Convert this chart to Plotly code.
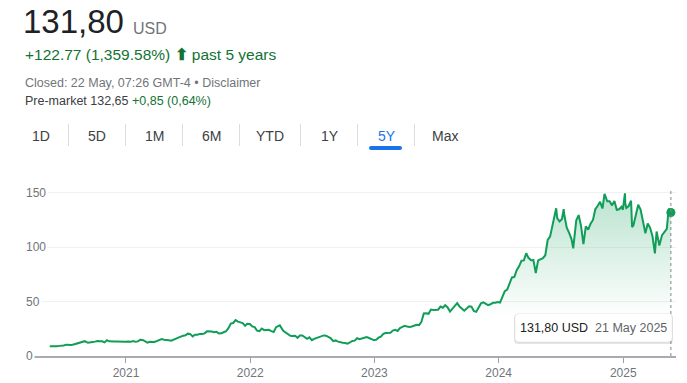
import plotly.graph_objects as go

# ---------------- data ----------------
dates = [
    "2020-05-22", "2020-05-29", "2020-06-05", "2020-06-12", "2020-06-19", "2020-06-26", "2020-07-02",
    "2020-07-10", "2020-07-17", "2020-07-24", "2020-07-31", "2020-08-07", "2020-08-14", "2020-08-21",
    "2020-08-28", "2020-09-02", "2020-09-11", "2020-09-18", "2020-09-25", "2020-10-02", "2020-10-09",
    "2020-10-16", "2020-10-23", "2020-10-30", "2020-11-06", "2020-11-13", "2020-11-20", "2020-11-27",
    "2020-12-04", "2020-12-11", "2020-12-18", "2020-12-31",
    "2021-01-08", "2021-01-15", "2021-01-22", "2021-01-29", "2021-02-05", "2021-02-12", "2021-02-19",
    "2021-02-26", "2021-03-05", "2021-03-12", "2021-03-19", "2021-03-26", "2021-04-01", "2021-04-09",
    "2021-04-16", "2021-04-23", "2021-04-30", "2021-05-07", "2021-05-14", "2021-05-21", "2021-05-28",
    "2021-06-04", "2021-06-11", "2021-06-18", "2021-06-25", "2021-07-02", "2021-07-09", "2021-07-16",
    "2021-07-23", "2021-07-30", "2021-08-06", "2021-08-13", "2021-08-20", "2021-08-27", "2021-09-03",
    "2021-09-10", "2021-09-17", "2021-09-24", "2021-10-01", "2021-10-08", "2021-10-15", "2021-10-22",
    "2021-10-29", "2021-11-05", "2021-11-12", "2021-11-19", "2021-11-26", "2021-12-03", "2021-12-10",
    "2021-12-17", "2021-12-23", "2021-12-31",
    "2022-01-07", "2022-01-14", "2022-01-21", "2022-01-28", "2022-02-04", "2022-02-11", "2022-02-18",
    "2022-02-25", "2022-03-04", "2022-03-11", "2022-03-18", "2022-03-25", "2022-03-29", "2022-04-08",
    "2022-04-14", "2022-04-22", "2022-04-29", "2022-05-06", "2022-05-13", "2022-05-20", "2022-05-27",
    "2022-06-03", "2022-06-10", "2022-06-17", "2022-06-24", "2022-07-01", "2022-07-08", "2022-07-15",
    "2022-07-22", "2022-07-29", "2022-08-05", "2022-08-12", "2022-08-19", "2022-08-26", "2022-09-02",
    "2022-09-09", "2022-09-16", "2022-09-23", "2022-09-30", "2022-10-07", "2022-10-14", "2022-10-21",
    "2022-10-28", "2022-11-04", "2022-11-11", "2022-11-18", "2022-11-25", "2022-12-02", "2022-12-09",
    "2022-12-16", "2022-12-23", "2022-12-30",
    "2023-01-06", "2023-01-13", "2023-01-20", "2023-01-27", "2023-02-03", "2023-02-10", "2023-02-17",
    "2023-02-24", "2023-03-03", "2023-03-10", "2023-03-17", "2023-03-24", "2023-03-31", "2023-04-07",
    "2023-04-14", "2023-04-21", "2023-04-28", "2023-05-05", "2023-05-12", "2023-05-19", "2023-05-26",
    "2023-06-02", "2023-06-09", "2023-06-16", "2023-06-23", "2023-06-30", "2023-07-07", "2023-07-14",
    "2023-07-21", "2023-07-28", "2023-08-04", "2023-08-11", "2023-08-18", "2023-08-25", "2023-09-01",
    "2023-09-08", "2023-09-15", "2023-09-22", "2023-09-29", "2023-10-06", "2023-10-13", "2023-10-20",
    "2023-10-27", "2023-11-03", "2023-11-10", "2023-11-17", "2023-11-24", "2023-12-01", "2023-12-08",
    "2023-12-15", "2023-12-22", "2023-12-29",
    "2024-01-05", "2024-01-12", "2024-01-19", "2024-01-26", "2024-02-02", "2024-02-09", "2024-02-16",
    "2024-02-23", "2024-03-01", "2024-03-08", "2024-03-15", "2024-03-22", "2024-03-28", "2024-04-05",
    "2024-04-12", "2024-04-19", "2024-04-26", "2024-05-03", "2024-05-10", "2024-05-17", "2024-05-24",
    "2024-05-31", "2024-06-07", "2024-06-14", "2024-06-18", "2024-06-21", "2024-06-28", "2024-07-05",
    "2024-07-10", "2024-07-12", "2024-07-19", "2024-07-26", "2024-08-02", "2024-08-07", "2024-08-09",
    "2024-08-16", "2024-08-23", "2024-08-30", "2024-09-06", "2024-09-13", "2024-09-20", "2024-09-27",
    "2024-10-04", "2024-10-11", "2024-10-18", "2024-10-25", "2024-11-01", "2024-11-07", "2024-11-15",
    "2024-11-22", "2024-11-29", "2024-12-06", "2024-12-13", "2024-12-20", "2024-12-27", "2024-12-31",
    "2025-01-06", "2025-01-07", "2025-01-10", "2025-01-17", "2025-01-24", "2025-01-27", "2025-01-31",
    "2025-02-07", "2025-02-14", "2025-02-21", "2025-02-28", "2025-03-07", "2025-03-14", "2025-03-21",
    "2025-03-28", "2025-04-04", "2025-04-09", "2025-04-11", "2025-04-17", "2025-04-25", "2025-05-02",
    "2025-05-09", "2025-05-13", "2025-05-16", "2025-05-21",
]
prices = [
    9.0, 8.9, 8.9, 9.0, 9.3, 9.2, 9.6,
    10.4, 10.2, 10.0, 10.6, 11.3, 11.5, 12.7,
    13.1, 13.6, 12.1, 12.2, 12.9, 13.2, 13.8,
    13.6, 13.5, 12.5, 14.5, 13.5, 13.2, 13.4,
    13.4, 13.2, 13.3, 13.0,
    13.3, 13.0, 13.7, 13.0, 13.4, 15.0, 14.8,
    13.7, 12.3, 13.0, 12.9, 12.9, 13.7, 14.5,
    15.6, 15.0, 15.0, 14.5, 14.1, 15.1, 16.3,
    17.5, 17.8, 18.6, 19.1, 20.5, 20.1, 18.0,
    19.5, 19.5, 20.3, 20.2, 20.8, 22.6, 22.8,
    22.4, 21.9, 22.2, 20.7, 20.8, 21.8, 22.7,
    25.6, 29.7, 30.3, 32.9, 31.5, 30.6, 30.2,
    27.7, 29.6, 29.4,
    27.2, 26.5, 23.3, 22.8, 25.2, 23.7, 23.6,
    24.1, 22.9, 22.0, 26.5, 27.6, 28.1, 23.2,
    21.7, 20.1, 18.5, 18.4, 18.6, 16.7, 18.8,
    18.8, 17.0, 15.8, 17.1, 14.5, 15.8, 16.4,
    17.3, 18.1, 18.9, 18.7, 17.5, 16.3, 13.6,
    14.3, 13.2, 12.5, 12.1, 12.0, 11.3, 12.4,
    13.8, 14.1, 16.3, 15.4, 16.3, 16.7, 17.4,
    16.5, 15.3, 14.6,
    14.8, 16.8, 17.8, 20.3, 21.1, 21.2, 21.4,
    23.3, 24.0, 23.0, 25.7, 26.8, 27.8, 27.0,
    26.7, 27.1, 27.7, 28.7, 28.3, 31.3, 39.0,
    39.3, 38.8, 42.6, 42.2, 42.3, 42.5, 45.4,
    44.3, 46.7, 44.6, 40.8, 43.3, 46.0, 48.5,
    45.5, 43.9, 41.6, 43.5, 45.7, 45.4, 41.3,
    40.5, 45.0, 48.3, 49.2, 47.7, 46.7, 47.5,
    48.8, 48.9, 49.5,
    49.0, 54.7, 59.5, 61.0, 66.1, 72.1, 72.6,
    78.8, 82.3, 87.5, 87.8, 94.3, 90.4, 88.0,
    88.1, 76.2, 87.8, 88.8, 89.9, 92.5, 106.5,
    109.6, 120.9, 131.9, 135.6, 126.6, 123.5, 125.8,
    134.9, 129.2, 117.9, 113.1, 107.3, 98.9, 104.8,
    124.6, 129.4, 119.4, 102.8, 119.1, 116.0, 121.4,
    124.9, 134.8, 138.0, 141.5, 135.4, 148.9, 142.0,
    142.0, 138.3, 142.4, 134.3, 134.7, 137.0, 134.3,
    149.4, 140.1, 135.9, 137.7, 142.6, 118.4, 120.1,
    129.8, 138.9, 134.4, 124.9, 112.7, 121.7, 117.7,
    109.7, 94.3, 114.3, 110.9, 101.5, 111.0, 114.5,
    116.7, 129.9, 135.4, 131.8,
]
y_tick_values = [0, 50, 100, 150]
y_tick_labels = ["0", "50", "100", "150"]
x_tick_dates = ["2021-01-01", "2022-01-01", "2023-01-01", "2024-01-01", "2025-01-01"]
x_tick_labels = ["2021", "2022", "2023", "2024", "2025"]
tab_labels = ["1D", "5D", "1M", "6M", "YTD", "1Y", "5Y", "Max"]
selected_tab = "5Y"
price_text = "131,80"
currency = "USD"
change_text = "+122.77 (1,359.58%)"
period_text = "past 5 years"
closed_text = "Closed: 22 May, 07:26 GMT-4 • Disclaimer"
premarket_label = "Pre-market 132,65"
premarket_change = "+0,85 (0,64%)"
tooltip_price = "131,80 USD"
tooltip_date = "21 May 2025"

# ---------------- layout geometry ----------------
W, H = 687, 383
L, R, T, B = 30, 11, 180, 27
PW, PH = W - L - R, H - T - B
GREEN = "#0f9d58"
TXT_GREEN = "#137333"
GRAY = "#70757a"
DARK = "#202124"
BLUE = "#1a73e8"
FONT = "Arial, Liberation Sans, sans-serif"


def px(x):
    return (x - L) / PW


def py(y):
    return (H - B - y) / PH


def rrect(x0, y0, x1, y1, r):
    rx, ry = r / PW, r / PH
    a0, a1 = px(x0), px(x1)
    b0, b1 = py(y1), py(y0)  # b0 bottom, b1 top
    return (f"M{a0+rx},{b0} L{a1-rx},{b0} Q{a1},{b0} {a1},{b0+ry} L{a1},{b1-ry} "
            f"Q{a1},{b1} {a1-rx},{b1} L{a0+rx},{b1} Q{a0},{b1} {a0},{b1-ry} "
            f"L{a0},{b0+ry} Q{a0},{b0} {a0+rx},{b0} Z")


fig = go.Figure()
fig.add_trace(go.Scatter(
    x=dates, y=prices, mode="lines",
    line=dict(color=GREEN, width=2),
    fill="tozeroy",
    fillgradient=dict(type="vertical",
                      colorscale=[[0, "rgba(15,157,88,0)"], [1, "rgba(15,157,88,0.30)"]],
                      start=35, stop=155),
    hoverinfo="skip", showlegend=False,
))
fig.add_trace(go.Scatter(
    x=[dates[-1]], y=[prices[-1]], mode="markers",
    marker=dict(color=GREEN, size=9), hoverinfo="skip", showlegend=False,
))

shapes = []
# dotted vertical line at last point
shapes.append(dict(type="line", xref="x", yref="y", x0=dates[-1], x1=dates[-1], y0=0, y1=152,
                   line=dict(color="#80868b", width=1, dash="dot"), layer="above"))
# tooltip box (shadow + box)
shapes.append(dict(type="path", xref="paper", yref="paper", path=rrect(514, 314, 673, 344, 4),
                   fillcolor="rgba(0,0,0,0.10)", line=dict(width=0), layer="above"))
shapes.append(dict(type="path", xref="paper", yref="paper", path=rrect(515, 313.5, 672, 342, 4),
                   fillcolor="white", line=dict(color="rgba(0,0,0,0.06)", width=1), layer="above"))
# tab separators
for sx in [68.5, 125.5, 182.5, 239.5, 300.5, 357.5, 414.5]:
    shapes.append(dict(type="line", xref="paper", yref="paper", x0=px(sx), x1=px(sx),
                       y0=py(124), y1=py(146), line=dict(color="#dadce0", width=1)))
# selected tab underline
shapes.append(dict(type="path", xref="paper", yref="paper", path=rrect(369, 146, 402, 150, 2),
                   fillcolor=BLUE, line=dict(width=0)))

annotations = []


def ann(x, y, text, size, color, xanchor="left", **kw):
    annotations.append(dict(x=px(x), y=py(y), xref="paper", yref="paper", text=text,
                            showarrow=False, xanchor=xanchor, yanchor="middle",
                            font=dict(family=FONT, size=size, color=color), **kw))


ann(21, 21, price_text, 33, DARK)
ann(131, 28, currency, 16, GRAY)
ann(23, 54, f"{change_text} <b>&#x2B06;</b> {period_text}", 15.5, TXT_GREEN)
ann(23, 82.5, closed_text, 12.5, GRAY)
ann(23, 100.5, f"{premarket_label} <span style='color:{TXT_GREEN}'>{premarket_change}</span>", 12.5, "#3c4043")

tab_centers = [40.5, 97, 154, 211.5, 270, 329.5, 386.5, 444.5]
for lab, cx in zip(tab_labels, tab_centers):
    ann(cx, 135.5, lab, 14, BLUE if lab == selected_tab else "#3c4043", xanchor="center")

# tooltip text
ann(593.5, 328, f"{tooltip_price}&nbsp; <span style='color:#5f6368'>{tooltip_date}</span>", 12.5, DARK,
    xanchor="center")

# y tick labels (left aligned, masking the gridlines)
for v, t in zip(y_tick_values, y_tick_labels):
    annotations.append(dict(x=px(24), y=v, xref="paper", yref="y", text=t, showarrow=False,
                            xanchor="left", yanchor="middle", bgcolor="white", borderpad=1,
                            font=dict(family=FONT, size=12, color=GRAY)))

fig.update_layout(
    template="none",
    width=W, height=H, margin=dict(l=L, r=R, t=T, b=B, autoexpand=False),
    paper_bgcolor="white", plot_bgcolor="white",
    shapes=shapes, annotations=annotations,
    xaxis=dict(type="date", range=["2020-03-25", "2025-06-05"], automargin=False,
               tickvals=x_tick_dates, ticktext=x_tick_labels,
               ticks="outside", ticklen=5, tickcolor="#9aa0a6", tickwidth=1,
               showgrid=False, zeroline=False,
               showline=True, linecolor="#a8abaf", linewidth=1.5,
               tickfont=dict(family=FONT, size=12, color=GRAY), fixedrange=True),
    yaxis=dict(range=[0, 161.6], tickvals=y_tick_values, showticklabels=False, automargin=False,
               showgrid=True, gridcolor="#f1f1f1", gridwidth=1, zeroline=False,
               showline=False, ticks="", fixedrange=True),
    hovermode=False,
)

fig.write_html("out.html", config={"displayModeBar": False},
               post_script="document.body.style.margin='0';document.body.style.overflow='hidden';")
